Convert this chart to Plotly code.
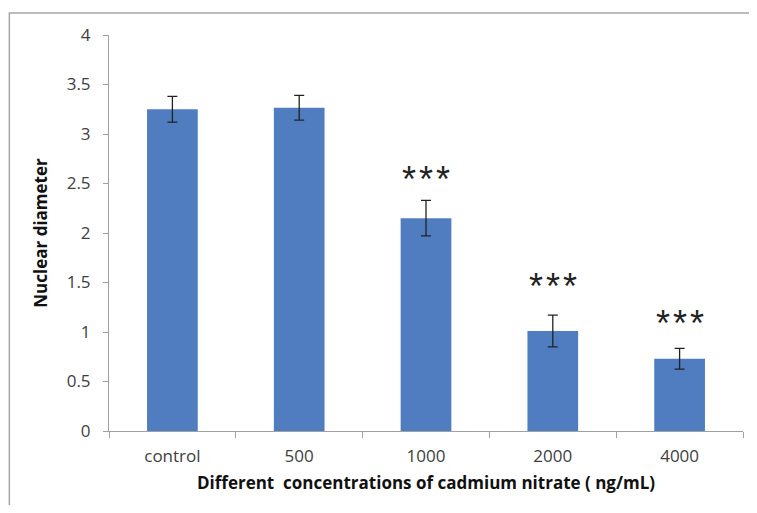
import plotly.graph_objects as go

categories = ["control", "500", "1000", "2000", "4000"]
means = [3.25, 3.265, 2.15, 1.01, 0.73]
errors = [0.13, 0.125, 0.18, 0.16, 0.105]
sig_labels = ["", "", "*\u200a*\u200a*", "*\u200a*\u200a*", "*\u200a*\u200a*"]
sig_y = [None, None, 2.58, 1.50, 1.13]
y_ticks = [0, 0.5, 1, 1.5, 2, 2.5, 3, 3.5, 4]
y_tick_text = ["0", "0.5", "1", "1.5", "2", "2.5", "3", "3.5", "4"]

# page body has an 8px margin; target plot area in page px: x 108.7-743, y 35-431
OFF = 8
W, H = 741, 497
L, R, T, B = 108.7 - OFF, 6, 35 - OFF, 74
pw = W - L - R
ph = H - T - B

fig = go.Figure()
fig.add_trace(go.Bar(
    x=categories, y=means,
    marker=dict(color="#4f7dbf", line=dict(width=0)),
    width=0.4,
    error_y=dict(type="data", array=errors, visible=True,
                 color="#222222", thickness=1.3, width=5),
))

for i, (s, yv) in enumerate(zip(sig_labels, sig_y)):
    if s:
        fig.add_annotation(x=i, y=yv, xref="x", yref="y", text=s, showarrow=False,
                           font=dict(family="Liberation Sans", size=36, color="#222222"),
                           yanchor="middle", yshift=-4)

# outer frame (top and left lines), page coords x=9, y=13
fx = (9 - OFF - L) / pw
fy = (H - B - (13 - OFF)) / ph
fig.add_shape(type="path", xref="paper", yref="paper",
              path=f"M {fx} {-(B + 20) / ph} L {fx} {fy} L {1 + (R + 20) / pw} {fy}",
              line=dict(color="#a6a6a6", width=1.5))

fig.update_layout(
    width=W, height=H,
    margin=dict(l=L, r=R, t=T, b=B),
    paper_bgcolor="white", plot_bgcolor="white",
    showlegend=False,
    font=dict(family="Open Sans", color="#404040"),
    xaxis=dict(
        type="category",
        showline=True, linecolor="#a0a0a0", linewidth=1,
        ticks="outside", tickson="boundaries", ticklen=6, tickcolor="#a0a0a0",
        ticklabelstandoff=10,
        tickfont=dict(family="Open Sans", size=17, color="#404040"),
        title=dict(text="<b>Different  concentrations of cadmium nitrate ( ng/mL)</b>",
                   font=dict(family="Open Sans", size=17, color="#111111"), standoff=10),
        range=[-0.5, 4.5],
    ),
    yaxis=dict(
        range=[0, 4], tickvals=y_ticks, ticktext=y_tick_text,
        showline=True, linecolor="#a0a0a0", linewidth=1,
        ticks="outside", ticklen=5, tickcolor="#a0a0a0",
        ticklabelstandoff=9,
        showgrid=False, zeroline=False,
        tickfont=dict(family="Open Sans", size=17, color="#404040"),
        title=dict(text="<b>Nuclear diameter</b>",
                   font=dict(family="Open Sans", size=17, color="#111111"), standoff=14),
    ),
)

fig.write_html("out.html")
